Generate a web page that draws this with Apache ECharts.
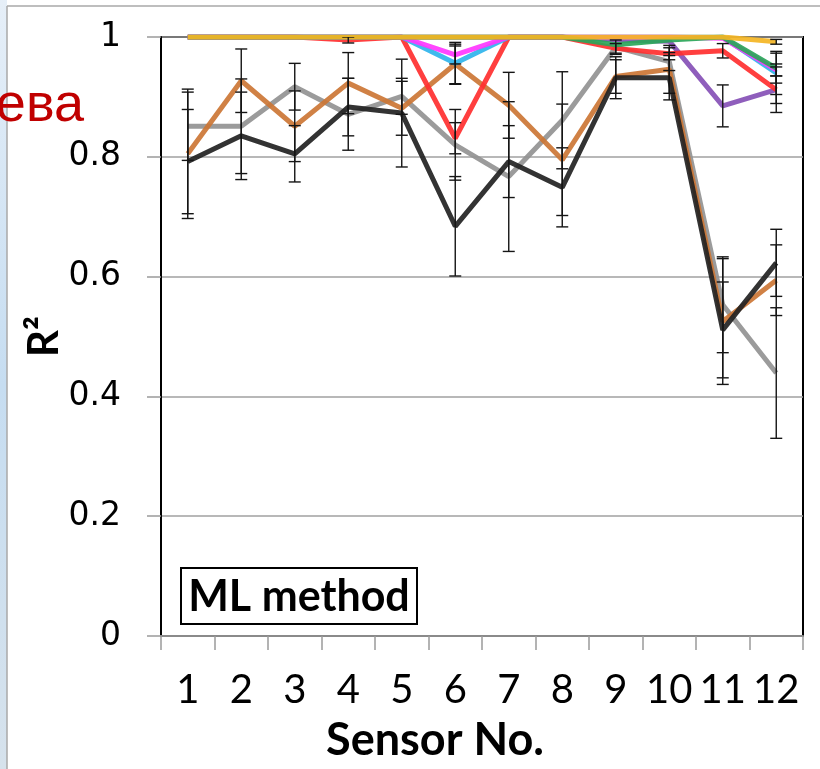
<!DOCTYPE html>
<html>
<head>
<meta charset="utf-8">
<script src="https://cdn.jsdelivr.net/npm/echarts@6/dist/echarts.min.js"></script>
<style>
html,body{margin:0;padding:0;background:#fff;}
#c{width:820px;height:769px;}
</style>
</head>
<body>
<div id="c"></div>
<script>
// ---- data ----
var categories = ['1','2','3','4','5','6','7','8','9','10','11','12'];
var yTicks = [0, 0.2, 0.4, 0.6, 0.8, 1];

var gold    = [1, 1, 1, 1, 1, 1, 1, 1, 1, 1, 1, 0.992];
var purple  = [1, 1, 1, 1, 1, 1, 1, 1, 0.995, 0.993, 0.885, 0.912];
var green   = [1, 1, 1, 1, 1, 1, 1, 1, 0.987, 0.995, 1, 0.948];
var cyan    = [1, 1, 1, 1, 1, 0.956, 1, 1, 1, 1, 1, 0.940];
var magenta = [1, 1, 1, 1, 1, 0.970, 1, 1, 1, 1, 0.998, 0.945];
var red     = [1, 1, 1, 0.995, 1, 0.831, 1, 1, 0.981, 0.972, 0.977, 0.912];
var orange  = [0.805, 0.927, 0.851, 0.923, 0.881, 0.955, 0.886, 0.795, 0.934, 0.946, 0.525, 0.594];
var gray    = [0.851, 0.851, 0.917, 0.871, 0.901, 0.820, 0.767, 0.861, 0.983, 0.959, 0.553, 0.439];
var black   = [0.792, 0.835, 0.805, 0.883, 0.873, 0.684, 0.792, 0.749, 0.932, 0.932, 0.511, 0.623];

var errGold    = [0, 0, 0, 0, 0, 0, 0, 0, 0, 0, 0, 0.004];
var errPurple  = [0, 0, 0, 0, 0, 0, 0, 0, 0, 0, 0.035, 0.038];
var errGreen   = [0, 0, 0, 0, 0, 0, 0, 0, 0, 0, 0, 0.025];
var errCyan    = [0, 0, 0, 0, 0, 0.035, 0, 0, 0, 0, 0, 0.036];
var errMagenta = [0, 0, 0, 0, 0, 0.015, 0, 0, 0, 0, 0, 0.010];
var errRed     = [0, 0, 0, 0.005, 0, 0.026, 0, 0, 0.008, 0.010, 0.012, 0.023];
var errOrange  = [0.108, 0.053, 0.059, 0.051, 0.045, 0.033, 0.055, 0.093, 0.028, 0.040, 0.105, 0.059];
var errGray    = [0.057, 0.079, 0.039, 0.060, 0.030, 0.059, 0.125, 0.081, 0.012, 0.015, 0.080, 0.109];
var errBlack   = [0.087, 0.073, 0.047, 0.048, 0.090, 0.083, 0.060, 0.066, 0.035, 0.037, 0.080, 0.056];

var seriesDefs = [
  {name:'gray',    data:gray,    err:errGray,    color:'#929292'},
  {name:'orange',  data:orange,  err:errOrange,  color:'#cc7635'},
  {name:'black',   data:black,   err:errBlack,   color:'#222222'},
  {name:'purple',  data:purple,  err:errPurple,  color:'#8650b6'},
  {name:'red',     data:red,     err:errRed,     color:'#ff2f2f'},
  {name:'cyan',    data:cyan,    err:errCyan,    color:'#2fb4ec'},
  {name:'magenta', data:magenta, err:errMagenta, color:'#ff36ff'},
  {name:'green',   data:green,   err:errGreen,   color:'#2aa659'},
  {name:'gold',    data:gold,    err:errGold,    color:'#f4b524'}
];

var series = [];
seriesDefs.forEach(function(s, k){
  series.push({
    type:'line', name:s.name, data:s.data, symbol:'none', z:2+k,
    lineStyle:{color:s.color, width:5, opacity:0.92}, silent:true
  });
});
seriesDefs.forEach(function(s){
  var d = [];
  s.data.forEach(function(v, i){ if (s.err[i] > 0) d.push([i, v, s.err[i]]); });
  series.push({
    type:'custom', name:s.name+'-err', data:d, z:20, silent:true, clip:true,
    renderItem:function(params, api){
      var x = api.value(0), v = api.value(1), e = api.value(2);
      var hiV = v + e, loV = v - e;
      var hi = api.coord([x, Math.min(hiV, 1)]);
      var lo = api.coord([x, loV]);
      var w = 6;
      var st = {stroke:'#151515', lineWidth:1.4};
      var ch = [
        {type:'line', shape:{x1:hi[0], y1:hi[1], x2:lo[0], y2:lo[1]}, style:st},
        {type:'line', shape:{x1:lo[0]-w, y1:lo[1], x2:lo[0]+w, y2:lo[1]}, style:st}
      ];
      if (hiV <= 1) ch.push({type:'line', shape:{x1:hi[0]-w, y1:hi[1], x2:hi[0]+w, y2:hi[1]}, style:st});
      return {type:'group', children:ch};
    }
  });
});

var chart = echarts.init(document.getElementById('c'), null, {renderer:'canvas'});
chart.setOption({
  animation:false,
  backgroundColor:'#ffffff',
  grid:{left:161, right:17, top:37, bottom:133, show:true, borderColor:'#000', borderWidth:2, backgroundColor:'#fff'},
  xAxis:{
    type:'category', data:categories, boundaryGap:true,
    name:'Sensor No.', nameLocation:'middle', nameGap:82,
    nameTextStyle:{fontFamily:'Lato', fontWeight:'bold', fontSize:45, color:'#000', padding:[0, 94, 0, 0]},
    axisLine:{show:true, lineStyle:{color:'#8a8a8a', width:2}},
    axisTick:{show:true, length:14, interval:0, lineStyle:{color:'#9a9a9a', width:1.5}},
    axisLabel:{fontFamily:'Lato', fontSize:40, color:'#000', margin:34, interval:0},
    splitLine:{show:false}
  },
  yAxis:{
    type:'value', min:yTicks[0], max:yTicks[yTicks.length-1], interval:0.2,
    name:'R²', nameLocation:'middle', nameGap:96, nameRotate:90, nameMoveOverlap:false,
    nameTextStyle:{fontFamily:'Lato', fontWeight:'bold', fontSize:42, color:'#000'},
    axisLine:{show:true, lineStyle:{color:'#000', width:2}},
    axisTick:{show:true, length:14, lineStyle:{color:'#9a9a9a', width:1.5}},
    axisLabel:{fontFamily:'DejaVu Sans', fontSize:33, color:'#000', margin:40},
    splitLine:{show:true, lineStyle:{color:'#a0a0a0', width:1.5}}
  },
  graphic:[
    {type:'rect', z:-10, shape:{x:0, y:0, width:7, height:769},
     style:{fill:new echarts.graphic.LinearGradient(0,0,0,1,[
       {offset:0, color:'#e6eff8'},{offset:0.5, color:'#c6ddf1'},{offset:1, color:'#d6e2ec'}])}},
    {type:'line', z:-9, shape:{x1:7, y1:6, x2:820, y2:6}, style:{stroke:'#a8a8a8', lineWidth:1.5}},
    {type:'line', z:-9, shape:{x1:7, y1:6, x2:7, y2:769}, style:{stroke:'#a8a8a8', lineWidth:1.5}},
    {type:'text', z:50, x:84, y:106,
     style:{text:'ева', fill:'#c00000', font:'54px "Liberation Sans", Arial, sans-serif', textAlign:'right', textVerticalAlign:'middle'}},
    {type:'rect', z:50, shape:{x:181, y:568, width:236, height:56},
     style:{fill:'#fff', stroke:'#000', lineWidth:2}},
    {type:'text', z:51, x:299, y:597,
     style:{text:'ML method', fill:'#000', font:'bold 43px Lato, sans-serif', textAlign:'center', textVerticalAlign:'middle'}}
  ],
  series:series
});
</script>
</body>
</html>
